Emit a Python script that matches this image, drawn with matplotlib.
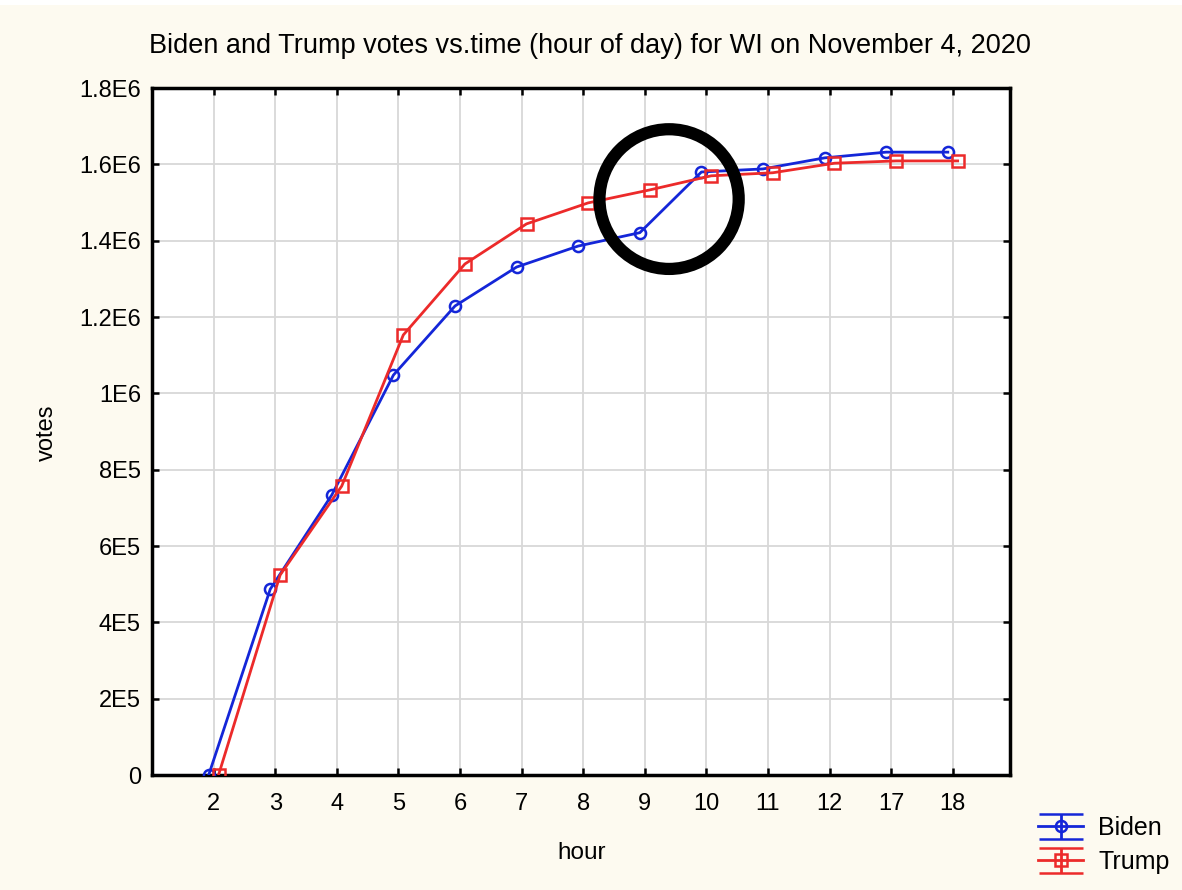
import numpy as np
import matplotlib.pyplot as plt
from matplotlib.patches import Ellipse, Rectangle

plt.rcParams['font.family'] = ['Liberation Sans', 'DejaVu Sans']

# hours reported on the morning of Nov 4 (categorical axis)
hours = ['2', '3', '4', '5', '6', '7', '8', '9', '10', '11', '12', '17', '18']
biden = [0, 487000, 734000, 1048000, 1229000, 1331000, 1386000, 1421000,
         1580000, 1588000, 1617000, 1632000, 1632000]
trump = [0, 524000, 757000, 1153000, 1339000, 1444000, 1499000, 1533000,
         1570000, 1578000, 1603000, 1609000, 1609000]

yticks = [0, 2e5, 4e5, 6e5, 8e5, 1e6, 1.2e6, 1.4e6, 1.6e6, 1.8e6]
ylabels = ['0', '2E5', '4E5', '6E5', '8E5', '1E6', '1.2E6', '1.4E6', '1.6E6', '1.8E6']

blue = '#1426d8'
red = '#ec2a2a'
cream = '#fdfaf0'

fig = plt.figure(figsize=(11.82, 8.9), dpi=100, facecolor=cream)
# thin white strip along the top edge
fig.patches.append(Rectangle((0, 0.994), 1, 0.006, transform=fig.transFigure,
                             facecolor='white', edgecolor='none', zorder=-1))

ax = fig.add_axes([0.1286, 0.1292, 0.7259, 0.7719])
ax.set_facecolor('white')

pos = np.arange(1, len(hours) + 1)
ax.plot(pos - 0.08, biden, color=blue, lw=2, marker='o', ms=8,
        mfc='none', mec=blue, mew=1.8, zorder=3)
ax.plot(pos + 0.08, trump, color=red, lw=2, marker='s', ms=8,
        mfc='none', mec=red, mew=1.8, zorder=3)

# legend proxies drawn as error-bar symbols
eb_b = ax.errorbar([np.nan], [np.nan], yerr=1, color=blue, lw=2, marker='o',
                   ms=8, mfc='none', mec=blue, mew=1.8, capsize=16, capthick=2)
eb_t = ax.errorbar([np.nan], [np.nan], yerr=1, color=red, lw=2, marker='s',
                   ms=8, mfc='none', mec=red, mew=1.8, capsize=16, capthick=2)

ax.set_xlim(0, 13.93)
ax.set_ylim(0, 1.8e6)
ax.set_xticks(pos)
ax.set_xticklabels(hours)
ax.set_yticks(yticks)
ax.set_yticklabels(ylabels)
ax.grid(True, color='#d8d8d8', lw=1.3)
ax.set_axisbelow(True)
ax.tick_params(axis='both', direction='in', length=5, width=1.8, labelsize=17,
               top=True, right=True)
ax.tick_params(axis='x', pad=13)
ax.tick_params(axis='y', pad=8)
for s in ax.spines.values():
    s.set_linewidth(2.5)

# circle around the 9-10 hour jump
ax.add_patch(Ellipse((8.395, 1.509e6), 2.26, 0.366e6, fill=False,
                     edgecolor='black', lw=8.8, zorder=5, clip_on=False))

fig.text(590 / 1182, 1 - 46 / 890,
         'Biden and Trump votes vs.time (hour of day) for WI on November 4, 2020',
         ha='center', va='center', fontsize=19.5)
fig.text(47 / 1182, 1 - 433 / 890, 'votes', rotation=90, ha='center', va='center',
         fontsize=17)
fig.text(582 / 1182, 1 - 853 / 890, 'hour', ha='center', va='center', fontsize=17.5)

fig.legend([eb_b, eb_t], ['Biden', 'Trump'], loc='center',
           bbox_to_anchor=(1104 / 1182, 1 - 845 / 890), frameon=False,
           fontsize=18, handlelength=1.8, handletextpad=0.6, labelspacing=0.4)

fig.savefig('out.png', dpi=100, facecolor=cream)
